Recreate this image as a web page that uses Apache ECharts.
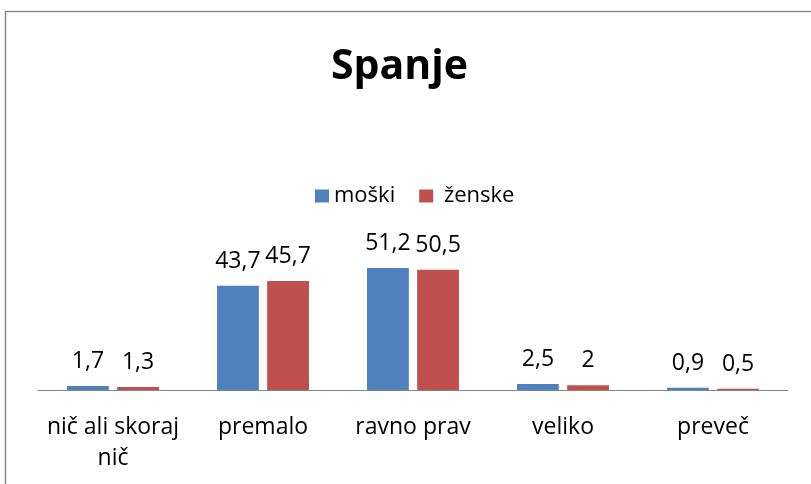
<!DOCTYPE html>
<html>
<head>
<meta charset="utf-8">
<script src="https://cdn.jsdelivr.net/npm/echarts@6/dist/echarts.min.js"></script>
<style>
  html, body { margin: 0; padding: 0; background: #fff; }
  #chart { width: 811px; height: 484px; }
</style>
</head>
<body>
<div id="chart"></div>
<script>
// Sleep survey: share of answers by gender
const categories = ['nič ali skoraj\nnič', 'premalo', 'ravno prav', 'veliko', 'preveč'];
const moski = [1.7, 43.7, 51.2, 2.5, 0.9];
const zenske = [1.3, 45.7, 50.5, 2, 0.5];
const seriesNames = ['moški', 'ženske'];

const FONT = '"Open Sans", Lato, sans-serif';
const fmt = p => String(p.value).replace('.', ',');

const valueLabel = {
  show: true, position: 'top', distance: 13, formatter: fmt,
  fontFamily: FONT, fontSize: 23, color: '#000'
};

const chart = echarts.init(document.getElementById('chart'));
chart.setOption({
  animation: false,
  textStyle: { fontFamily: FONT },
  title: {
    text: 'Spanje',
    left: 326,
    top: 42,
    textStyle: { fontFamily: FONT, fontSize: 41, fontWeight: 'bold', color: '#000' }
  },
  graphic: [{
    type: 'rect',
    silent: true,
    shape: { x: 5.5, y: 11.5, width: 900, height: 600 },
    style: { fill: 'none', stroke: '#8a8a8a', lineWidth: 1.5 }
  }],
  legend: {
    data: seriesNames,
    top: 180,
    left: 310,
    itemWidth: 14,
    itemHeight: 13,
    itemGap: 24,
    icon: 'rect',
    formatter: name => (name === seriesNames[1] ? ' ' + name : name),
    textStyle: { fontFamily: FONT, fontSize: 22, color: '#000' }
  },
  grid: { left: 38, right: 23, top: 247, bottom: 94 },
  xAxis: {
    type: 'category',
    data: categories,
    axisLine: { lineStyle: { color: '#868686', width: 1 } },
    axisTick: { show: false },
    axisLabel: {
      fontFamily: FONT, fontSize: 23, color: '#000',
      margin: 22, lineHeight: 31, interval: 0
    }
  },
  yAxis: {
    type: 'value',
    min: 0,
    max: 60,
    show: false,
    splitLine: { show: false }
  },
  series: [
    {
      name: seriesNames[0],
      type: 'bar',
      data: moski,
      itemStyle: { color: '#4F81BD' },
      barGap: '20%',
      barCategoryGap: '38.7%',
      label: valueLabel
    },
    {
      name: seriesNames[1],
      type: 'bar',
      data: zenske,
      itemStyle: { color: '#C0504D' },
      barGap: '20%',
      barCategoryGap: '38.7%',
      label: valueLabel
    }
  ]
});
</script>
</body>
</html>
